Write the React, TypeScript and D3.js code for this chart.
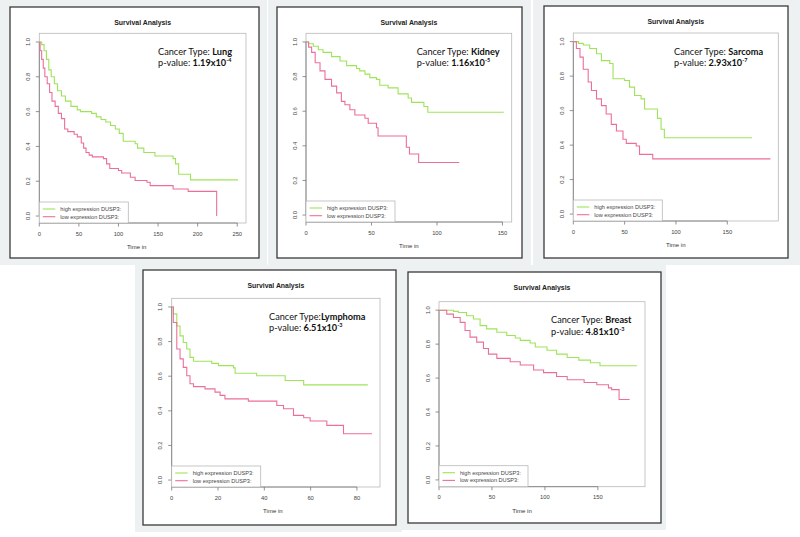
import React from 'react';
import * as d3 from 'd3';

// Kaplan-Meier step points: [time, survival]
const lungHigh = [[0,1],[3,0.985],[6,0.95],[9,0.9],[12,0.84],[15,0.8],[19,0.76],[23,0.72],[28,0.69],[33,0.66],[40,0.63],[48,0.61],[52,0.6],[66,0.59],[72,0.57],[78,0.555],[84,0.54],[90,0.52],[96,0.5],[101,0.475],[106,0.43],[121,0.415],[124,0.39],[132,0.365],[146,0.345],[169,0.33],[172,0.3],[176,0.24],[191,0.208],[251,0.208]];
const lungLow = [[0,1],[1,0.95],[3,0.9],[5,0.85],[7,0.8],[10,0.76],[13,0.71],[16,0.66],[20,0.63],[24,0.59],[28,0.56],[32,0.5],[36,0.485],[44,0.47],[48,0.455],[53,0.42],[56,0.39],[59,0.365],[63,0.35],[67,0.34],[81,0.33],[85,0.3],[89,0.273],[100,0.262],[104,0.247],[115,0.223],[121,0.204],[136,0.194],[140,0.175],[169,0.155],[188,0.142],[224,0]];

const kidneyHigh = [[0,1],[2,0.99],[5.6,0.975],[9.4,0.955],[13,0.94],[19.5,0.915],[26,0.89],[31,0.863],[38.6,0.847],[41,0.833],[45,0.814],[48.7,0.794],[53.8,0.784],[56.3,0.75],[62.7,0.735],[70.3,0.7],[78,0.676],[80.5,0.651],[90,0.627],[93,0.594],[151,0.594]];
const kidneyLow = [[0,1],[2,0.97],[4.3,0.94],[7,0.88],[10.7,0.833],[14.5,0.784],[19.5,0.745],[23.4,0.706],[27,0.657],[29.7,0.637],[33.5,0.608],[37.3,0.578],[45,0.559],[47.5,0.53],[53.8,0.504],[55,0.457],[76.6,0.392],[79,0.353],[86,0.304],[117,0.304]];

const sarcomaHigh = [[0,1],[5,0.99],[9.7,0.98],[16,0.96],[22.6,0.93],[27.4,0.89],[35.5,0.873],[38.7,0.785],[50,0.775],[54.8,0.736],[59.7,0.6875],[66,0.668],[69.4,0.609],[82,0.555],[85.5,0.492],[88.7,0.443],[174,0.443]];
const sarcomaLow = [[0,1],[3,0.96],[6.5,0.91],[9.7,0.84],[14.5,0.766],[17.7,0.717],[22.6,0.668],[27.4,0.629],[32,0.58],[37,0.52],[42,0.482],[48.4,0.434],[51.6,0.41],[61.3,0.395],[64.5,0.346],[77.4,0.32],[192,0.32]];

const lymphomaHigh = [[0,1],[0.7,0.96],[2.2,0.89],[3.6,0.833],[5,0.795],[6.5,0.757],[7.9,0.709],[9.4,0.686],[17.3,0.674],[20.2,0.661],[26.7,0.648],[27.4,0.617],[36.7,0.603],[49,0.575],[57,0.55],[84.7,0.55]];
const lymphomaLow = [[0,1],[0.7,0.91],[2.2,0.757],[3.6,0.7],[5,0.651],[6.5,0.603],[7.9,0.556],[9.4,0.54],[14.4,0.527],[18.7,0.508],[20.9,0.489],[23,0.469],[33.1,0.456],[45.4,0.431],[48.3,0.412],[52.6,0.374],[57,0.36],[59.8,0.341],[67,0.316],[74.2,0.268],[86.5,0.268]];

const breastHigh = [[0,1],[13.6,0.993],[18.3,0.986],[26,0.967],[32.5,0.948],[38.8,0.909],[45,0.89],[54.6,0.87],[64,0.851],[72,0.836],[76.7,0.822],[86,0.807],[90.9,0.783],[102,0.764],[111,0.741],[121,0.721],[132,0.706],[143,0.69],[152,0.673],[187,0.673]];
const breastLow = [[0,1],[7.3,0.977],[13.6,0.957],[20,0.928],[24.6,0.88],[29.3,0.841],[35.6,0.812],[42,0.774],[46.7,0.741],[54.6,0.716],[67.2,0.696],[76.7,0.677],[89.3,0.648],[98.7,0.632],[111,0.609],[121,0.59],[137,0.574],[149,0.561],[160,0.542],[163,0.532],[170,0.474],[180,0.474]];

const cancerTypes = ['Lung', 'Kidney', 'Sarcoma', 'Lymphoma', 'Breast'];
const pMantissa = ['1.19', '1.16', '2.93', '6.51', '4.81'];
const pExponent = ['-4', '-5', '-7', '-3', '-3'];
const xTickValues = [
  [0, 50, 100, 150, 200, 250],
  [0, 50, 100, 150],
  [0, 50, 100, 150],
  [0, 20, 40, 60, 80],
  [0, 50, 100, 150],
];
const yTickValues = [0, 0.2, 0.4, 0.6, 0.8, 1.0];
const highSeries = [lungHigh, kidneyHigh, sarcomaHigh, lymphomaHigh, breastHigh];
const lowSeries = [lungLow, kidneyLow, sarcomaLow, lymphomaLow, breastLow];
const legendLabels = ['high expression DUSP3:', 'low expression DUSP3:'];

// screen layout of each screenshot tile
const tiles = [
  { bg: [0, 0, 267, 265], box: [10, 7, 249, 251], plot: [39.3, 33.3, 246, 223], note: 158, xlabShift: -6, sep: '  ' },
  { bg: [268, 0, 263, 265], box: [277, 7, 245, 251], plot: [306, 33.3, 511.7, 222], note: 416.7, xlabShift: 0, sep: '  ' },
  { bg: [533, 0, 267, 265], box: [544, 6, 244, 252], plot: [573.3, 33, 778.3, 221], note: 674, xlabShift: 0, sep: '  ' },
  { bg: [135, 265, 267, 267], box: [143, 270, 253, 255], plot: [171.7, 298.3, 380, 487], note: 269, xlabShift: -3, sep: '' },
  { bg: [402, 265, 264, 265], box: [408, 272, 253, 251], plot: [439, 301.7, 645, 486.7], note: 551, xlabShift: -20, sep: '  ' },
];

const GREEN = '#9fe35a';
const PINK = '#ec6f9b';
const rFont = '"Liberation Sans", Arial, sans-serif';
const noteFont = 'Lato, "Open Sans", sans-serif';

function Panel({ i }) {
  const t = tiles[i];
  const [pl, pt, pr, pb] = t.plot;
  const high = highSeries[i];
  const low = lowSeries[i];
  const maxT = d3.max([...high, ...low], d => d[0]);

  const x = d3.scaleLinear().domain([0, maxT * 1.04]).range([pl, pr]);
  const y = d3.scaleLinear().domain([-0.04, 1.05]).range([pb, pt]);
  const line = d3.line().x(d => x(d[0])).y(d => y(d[1])).curve(d3.curveStepAfter);

  const ticks = xTickValues[i];
  const legW = 89;
  const legH = 21;

  return (
    <g>
      <rect x={t.bg[0]} y={t.bg[1]} width={t.bg[2]} height={t.bg[3]} fill="#eef1f1" />
      <rect x={t.box[0]} y={t.box[1]} width={t.box[2]} height={t.box[3]} fill="#fff" stroke="#3a3a3a" strokeWidth={1.3} />

      <text x={(pl + pr) / 2} y={t.box[1] + 18} textAnchor="middle" fontFamily={rFont} fontWeight="bold" fontSize={6.9} fill="#222">
        Survival Analysis
      </text>

      {/* plot frame */}
      <rect x={pl} y={pt} width={pr - pl} height={pb - pt} fill="none" stroke="#b8b8b8" strokeWidth={0.8} />

      {/* x axis */}
      <line x1={x(ticks[0])} x2={x(ticks[ticks.length - 1])} y1={pb} y2={pb} stroke="#777" strokeWidth={0.8} />
      {ticks.map(v => (
        <g key={'x' + v}>
          <line x1={x(v)} x2={x(v)} y1={pb} y2={pb + 3.5} stroke="#777" strokeWidth={0.8} />
          <text x={x(v)} y={pb + 12.5} textAnchor="middle" fontFamily={rFont} fontSize={5.8} fill="#444">{v}</text>
        </g>
      ))}
      <text x={(pl + pr) / 2 + t.xlabShift} y={pb + 26} textAnchor="middle" fontFamily={rFont} fontSize={6} fill="#333">Time in</text>

      {/* y axis */}
      <line x1={pl} x2={pl} y1={y(0)} y2={y(1)} stroke="#777" strokeWidth={0.8} />
      {yTickValues.map(v => (
        <g key={'y' + v}>
          <line x1={pl - 3.5} x2={pl} y1={y(v)} y2={y(v)} stroke="#777" strokeWidth={0.8} />
          <text transform={`translate(${pl - 9.5},${y(v)}) rotate(-90)`} textAnchor="middle" fontFamily={rFont} fontSize={5.8} fill="#444">
            {v.toFixed(1)}
          </text>
        </g>
      ))}

      {/* survival curves */}
      <path d={line(high)} fill="none" stroke={GREEN} strokeWidth={1.1} />
      <path d={line(low)} fill="none" stroke={PINK} strokeWidth={1.1} />

      {/* legend */}
      <rect x={pl} y={pb - legH} width={legW} height={legH} fill="#fff" stroke="#b8b8b8" strokeWidth={0.8} />
      {legendLabels.map((lab, k) => {
        const ly = pb - legH + 7 + k * 7.7;
        return (
          <g key={lab}>
            <line x1={pl + 3.5} x2={pl + 16} y1={ly} y2={ly} stroke={k === 0 ? GREEN : PINK} strokeWidth={1.1} />
            <text x={pl + 21} y={ly + 2} fontFamily={rFont} fontSize={5.6} fill="#444">{lab}</text>
          </g>
        );
      })}

      {/* annotation */}
      <text x={t.note} y={pt + 21.5} fontFamily={noteFont} fontSize={9.2} fill="#111">
        {'Cancer Type:' + t.sep}
        <tspan fontWeight="bold">{cancerTypes[i]}</tspan>
      </text>
      <text x={t.note} y={pt + 33} fontFamily={noteFont} fontSize={9.2} fill="#111">
        {'p-value: '}
        <tspan fontWeight="bold">{pMantissa[i] + 'x10'}</tspan>
        <tspan fontWeight="bold" fontSize={5.5} dy={-4}>{pExponent[i]}</tspan>
      </text>
    </g>
  );
}

export default function App() {
  return (
    <svg width={800} height={537} style={{ display: 'block', position: 'absolute', left: 0, top: 0 }}>
      <rect x={0} y={0} width={800} height={537} fill="#fff" />
      {tiles.map((_, i) => <Panel key={i} i={i} />)}
    </svg>
  );
}
